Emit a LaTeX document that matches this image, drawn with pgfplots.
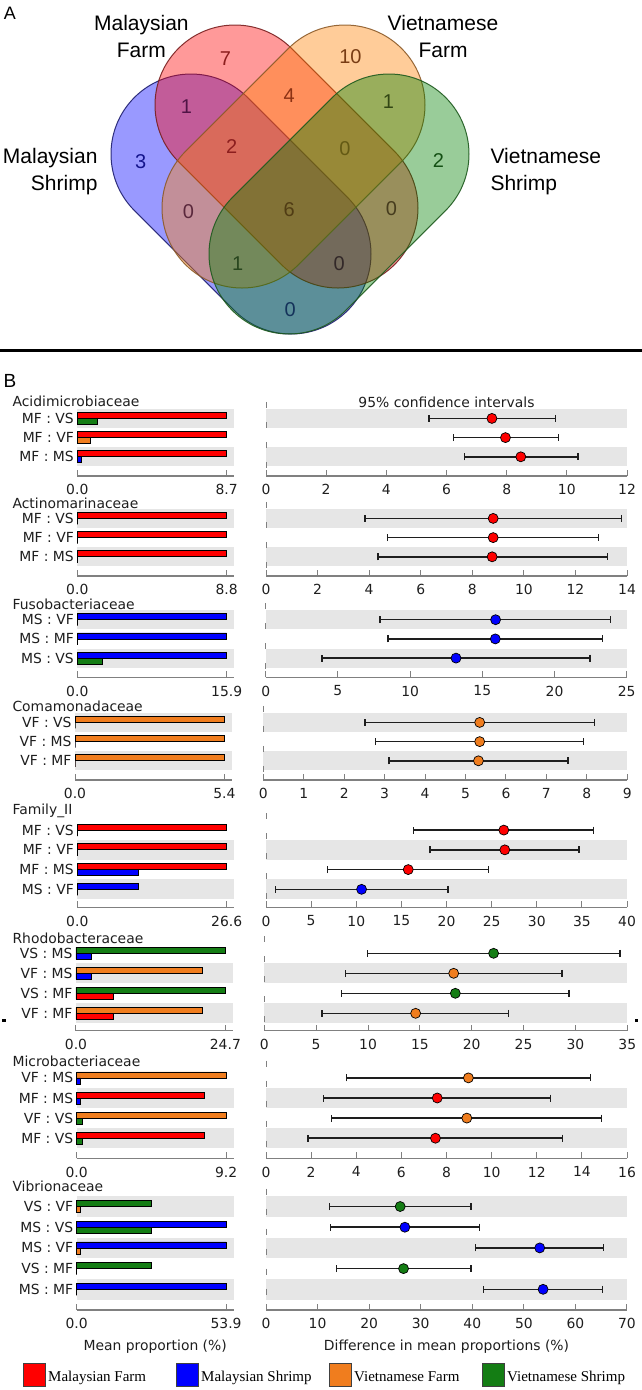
\documentclass[border=0pt]{standalone}
\usepackage{pgfplots}
\pgfplotsset{compat=1.18}
\usepackage{fontspec}
\setmainfont{DejaVu Sans}
\newfontfamily\vennfont{Liberation Sans}
\newfontfamily\legfont{Liberation Serif}
\usetikzlibrary{calc}

\definecolor{cMF}{RGB}{255,0,0}
\definecolor{cMS}{RGB}{0,0,255}
\definecolor{cVF}{RGB}{240,125,30}
\definecolor{cVS}{RGB}{20,125,20}
\definecolor{bandgray}{RGB}{230,230,230}
\definecolor{axgray}{RGB}{128,128,128}
\definecolor{txt}{RGB}{30,30,30}

\newcommand{\fs}{\fontsize{13.9}{16}\selectfont}

% stadium shape of the Venn diagram: style, centre 1, centre 2, side angle
\newcommand{\capsule}[6]{%
  \path[#1] ($(axis cs:#2,#3)+(#6:80pt)$) -- ($(axis cs:#4,#5)+(#6:80pt)$)
    arc[start angle=#6, delta angle=-180, radius=80pt]
    -- ($(axis cs:#2,#3)+(#6+180:80pt)$)
    arc[start angle=#6+180, delta angle=-180, radius=80pt] -- cycle;}

\tikzset{zl/.style={axgray, line width=1pt, dash pattern=on 6pt off 14pt}}

\pgfplotsset{
  base/.style={scale only axis, anchor=south west, clip=false,
    axis x line*=bottom, axis y line*=left,
    x axis line style={-, draw=axgray, line width=1.2pt},
    y axis line style={draw=none},
    xtick align=inside, major tick length=6pt,
    xtick style={draw=axgray, line width=1pt},
    ytick style={draw=none},
    font=\fs,
    tick label style={text=txt, font=\fs},
    xticklabel style={yshift=-5pt},
    /pgf/number format/assume math mode=true},
  barax/.style={base, width=157pt, xmin=0},
  ciax/.style={base, width=361pt, xmin=0, ytick=\empty},
  bt/.style={xbar, bar width=6pt, bar shift=3pt, draw=black, line width=0.7pt},
  bb/.style={xbar, bar width=6pt, bar shift=-3pt, draw=black, line width=0.7pt},
  ci/.style={only marks, mark=*, mark size=5pt, draw=black, line width=0.7pt,
    error bars/x dir=both, error bars/x explicit,
    error bars/error bar style={line width=1.5pt, txt},
    error bars/error mark options={rotate=90, mark size=3.5pt, line width=1.5pt, txt}},
}

\begin{document}
\begin{tikzpicture}
\useasboundingbox (0,0) rectangle (642pt,-1390pt);

% ---------------- A: Venn diagram ----------------
\begin{axis}[at={(0pt,0pt)}, anchor=north west, scale only axis,
  width=642pt, height=345pt, xmin=0, xmax=642, ymin=0, ymax=345,
  y dir=reverse, hide axis, clip=false]
  \capsule{fill=blue, fill opacity=0.4, draw={rgb,255:red,30;green,30;blue,110}, draw opacity=0.9, line width=1pt}{191}{154}{291}{254}{45}
  \capsule{fill=red, fill opacity=0.4, draw={rgb,255:red,120;green,30;blue,30}, draw opacity=0.9, line width=1pt}{235}{105}{338}{208}{45}
  \capsule{fill={rgb,255:red,255;green,128;blue,0}, fill opacity=0.4, draw={rgb,255:red,140;green,90;blue,40}, draw opacity=0.9, line width=1pt}{345}{105}{242}{208}{-45}
  \capsule{fill={rgb,255:red,0;green,128;blue,0}, fill opacity=0.4, draw={rgb,255:red,30;green,90;blue,30}, draw opacity=0.9, line width=1pt}{389}{154}{289}{254}{-45}
  \begin{scope}[font=\vennfont\fontsize{20}{21}\selectfont]
  \node[text={rgb,255:red,140;green,30;blue,30}] at (axis cs:225.4,58.3) {7};
  \node[text={rgb,255:red,120;green,60;blue,20}] at (axis cs:350.4,56.7) {10};
  \node[text={rgb,255:red,80;green,20;blue,70}] at (axis cs:186.5,106.7) {1};
  \node[text={rgb,255:red,140;green,50;blue,20}] at (axis cs:289.3,96) {4};
  \node[text={rgb,255:red,50;green,70;blue,20}] at (axis cs:388.5,101.7) {1};
  \node[text={rgb,255:red,20;green,20;blue,140}] at (axis cs:140.6,161.7) {3};
  \node[text={rgb,255:red,140;green,30;blue,30}] at (axis cs:231.6,146.7) {2};
  \node[text={rgb,255:red,100;green,90;blue,20}] at (axis cs:345,149) {0};
  \node[text={rgb,255:red,20;green,80;blue,20}] at (axis cs:438.5,160.7) {2};
  \node[text={rgb,255:red,90;green,40;blue,60}] at (axis cs:188.5,211.7) {0};
  \node[text={rgb,255:red,80;green,60;blue,20}] at (axis cs:289.3,209.3) {6};
  \node[text={rgb,255:red,70;green,60;blue,30}] at (axis cs:391.4,208.3) {0};
  \node[text={rgb,255:red,40;green,70;blue,30}] at (axis cs:237.7,263.3) {1};
  \node[text={rgb,255:red,50;green,40;blue,40}] at (axis cs:339.3,263.3) {0};
  \node[text={rgb,255:red,20;green,50;blue,90}] at (axis cs:290.2,310) {0};
  \end{scope}
  \begin{scope}[font=\vennfont\fontsize{21}{27}\selectfont, text=black]
  \node[align=center] at (axis cs:141.4,36.7) {Malaysian\\Farm};
  \node[align=center] at (axis cs:443,36.7) {Vietnamese\\Farm};
  \node[align=right, anchor=east] at (axis cs:101,172) {Malaysian\\Shrimp};
  \node[align=left, anchor=west] at (axis cs:487,172) {Vietnamese\\Shrimp};
  \node at (axis cs:10,13) {\fontsize{18}{20}\selectfont A};
  \end{scope}
\end{axis}
\draw[line width=2.5pt] (0,-350.5pt) -- (642pt,-350.5pt);
\node[font=\vennfont\fontsize{19}{20}\selectfont] at (10pt,-381pt) {B};

% ---------------- B: panels ----------------
\begin{scope}[font=\fs, text=txt]
\node[anchor=west] at (9pt,-401.7pt) {Acidimicrobiaceae};
\node[anchor=west] at (9pt,-503.3pt) {Actinomarinaceae};
\node[anchor=west] at (9pt,-604.3pt) {Fusobacteriaceae};
\node[anchor=west] at (9pt,-706.7pt) {Comamonadaceae};
\node[anchor=west] at (9pt,-810.7pt) {Family\_II};
\node[anchor=west] at (9pt,-938.3pt) {Rhodobacteraceae};
\node[anchor=west] at (9pt,-1061.7pt) {Microbacteriaceae};
\node[anchor=west] at (9pt,-1186.7pt) {Vibrionaceae};
\end{scope}

% Acidimicrobiaceae
\begin{axis}[barax, at={(77.3pt,-476pt)}, height=74.1pt, xmax=9.144, ymin=0, ymax=3.86,
  xtick={0,8.7}, xticklabels={0.0,8.7}, ytick={1,2,3}, yticklabels={MF : MS,MF : VF,MF : VS}]
  \fill[bandgray] (axis cs:0,0.5) rectangle (axis cs:9.144,1.5);
  \fill[bandgray] (axis cs:0,2.5) rectangle (axis cs:9.144,3.5);
  \addplot[bt, fill=cMF] coordinates {(8.7,3) (8.7,2) (8.7,1)};
  \addplot[bb, fill=cVS] coordinates {(1.18,3)};
  \addplot[bb, fill=cVF] coordinates {(0.74,2)};
  \addplot[bb, fill=cMS] coordinates {(0.21,1)};
\end{axis}
\begin{axis}[ciax, at={(266pt,-476pt)}, height=74.1pt, xmax=12, ymin=0, ymax=3.86, xtick distance=2]
  \fill[bandgray] (axis cs:0,0.5) rectangle (axis cs:12,1.5);
  \fill[bandgray] (axis cs:0,2.5) rectangle (axis cs:12,3.5);
  \draw[zl] (axis cs:0,3.86) -- (axis cs:0,0);
  \addplot[ci, fill=cMF] table[row sep=\\, x=m, y=r, x error plus expr=\thisrow{h}-\thisrow{m}, x error minus expr=\thisrow{m}-\thisrow{l}]
    {r m l h\\ 3 7.51 5.41 9.63\\ 2 7.96 6.23 9.72\\ 1 8.47 6.59 10.37\\};
  \node[text=txt, font=\fs] at (rel axis cs:0.5,1) {95\% confidence intervals};
\end{axis}

% Actinomarinaceae
\begin{axis}[barax, at={(77.3pt,-576pt)}, height=74.1pt, xmax=9.249, ymin=0, ymax=3.86,
  xtick={0,8.8}, xticklabels={0.0,8.8}, ytick={1,2,3}, yticklabels={MF : MS,MF : VF,MF : VS}]
  \fill[bandgray] (axis cs:0,0.5) rectangle (axis cs:9.249,1.5);
  \fill[bandgray] (axis cs:0,2.5) rectangle (axis cs:9.249,3.5);
  \addplot[bt, fill=cMF] coordinates {(8.8,3) (8.8,2) (8.8,1)};
  \addplot[bb, fill=cVS] coordinates {(0,3)};
  \addplot[bb, fill=cVF] coordinates {(0,2)};
  \addplot[bb, fill=cMS] coordinates {(0,1)};
\end{axis}
\begin{axis}[ciax, at={(266pt,-576pt)}, height=74.1pt, xmax=14, ymin=0, ymax=3.86, xtick distance=2]
  \fill[bandgray] (axis cs:0,0.5) rectangle (axis cs:14,1.5);
  \fill[bandgray] (axis cs:0,2.5) rectangle (axis cs:14,3.5);
  \draw[zl] (axis cs:0,3.86) -- (axis cs:0,0);
  \addplot[ci, fill=cMF] table[row sep=\\, x=m, y=r, x error plus expr=\thisrow{h}-\thisrow{m}, x error minus expr=\thisrow{m}-\thisrow{l}]
    {r m l h\\ 3 8.81 3.83 13.79\\ 2 8.81 4.71 12.90\\ 1 8.77 4.35 13.24\\};
\end{axis}

% Fusobacteriaceae
\begin{axis}[barax, at={(77.3pt,-677.3pt)}, height=74.1pt, xmax=16.711, ymin=0, ymax=3.86,
  xtick={0,15.9}, xticklabels={0.0,15.9}, ytick={1,2,3}, yticklabels={MS : VS,MS : MF,MS : VF}]
  \fill[bandgray] (axis cs:0,0.5) rectangle (axis cs:16.711,1.5);
  \fill[bandgray] (axis cs:0,2.5) rectangle (axis cs:16.711,3.5);
  \addplot[bt, fill=cMS] coordinates {(15.9,3) (15.9,2) (15.9,1)};
  \addplot[bb, fill=cVF] coordinates {(0,3)};
  \addplot[bb, fill=cMF] coordinates {(0,2)};
  \addplot[bb, fill=cVS] coordinates {(2.70,1)};
\end{axis}
\begin{axis}[ciax, at={(265.7pt,-677.3pt)}, height=74.1pt, xmax=25, ymin=0, ymax=3.86, xtick distance=5]
  \fill[bandgray] (axis cs:0,0.5) rectangle (axis cs:25,1.5);
  \fill[bandgray] (axis cs:0,2.5) rectangle (axis cs:25,3.5);
  \draw[zl] (axis cs:0,3.86) -- (axis cs:0,0);
  \addplot[ci, fill=cMS] table[row sep=\\, x=m, y=r, x error plus expr=\thisrow{h}-\thisrow{m}, x error minus expr=\thisrow{m}-\thisrow{l}]
    {r m l h\\ 3 15.92 7.90 23.89\\ 2 15.90 8.46 23.34\\ 1 13.18 3.89 22.47\\};
\end{axis}

% Comamonadaceae
\begin{axis}[barax, at={(75pt,-780pt)}, height=74.1pt, xmax=5.675, ymin=0, ymax=3.86,
  xtick={0,5.4}, xticklabels={0.0,5.4}, ytick={1,2,3}, yticklabels={VF : MF,VF : MS,VF : VS}]
  \fill[bandgray] (axis cs:0,0.5) rectangle (axis cs:5.675,1.5);
  \fill[bandgray] (axis cs:0,2.5) rectangle (axis cs:5.675,3.5);
  \addplot[bt, fill=cVF] coordinates {(5.4,3) (5.4,2) (5.4,1)};
  \addplot[bb, fill=cVS] coordinates {(0,3)};
  \addplot[bb, fill=cMS] coordinates {(0,2)};
  \addplot[bb, fill=cMF] coordinates {(0,1)};
\end{axis}
\begin{axis}[ciax, at={(263.3pt,-780pt)}, width=364pt, height=74.1pt, xmax=9, ymin=0, ymax=3.86, xtick distance=1]
  \fill[bandgray] (axis cs:0,0.5) rectangle (axis cs:9,1.5);
  \fill[bandgray] (axis cs:0,2.5) rectangle (axis cs:9,3.5);
  \draw[zl] (axis cs:0,3.86) -- (axis cs:0,0);
  \addplot[ci, fill=cVF] table[row sep=\\, x=m, y=r, x error plus expr=\thisrow{h}-\thisrow{m}, x error minus expr=\thisrow{m}-\thisrow{l}]
    {r m l h\\ 3 5.35 2.51 8.19\\ 2 5.35 2.78 7.92\\ 1 5.32 3.11 7.54\\};
\end{axis}

% Family_II
\begin{axis}[barax, at={(77.3pt,-907.3pt)}, height=94.2pt, xmax=27.957, ymin=0.09, ymax=4.86,
  xtick={0,26.6}, xticklabels={0.0,26.6}, ytick={1,2,3,4}, yticklabels={MS : VF,MF : MS,MF : VF,MF : VS}]
  \fill[bandgray] (axis cs:0,0.5) rectangle (axis cs:27.957,1.5);
  \fill[bandgray] (axis cs:0,2.5) rectangle (axis cs:27.957,3.5);
  \addplot[bt, fill=cMF] coordinates {(26.6,4) (26.6,3) (26.6,2)};
  \addplot[bt, fill=cMS] coordinates {(10.81,1)};
  \addplot[bb, fill=cVS] coordinates {(0,4)};
  \addplot[bb, fill=cVF] coordinates {(0,3) (0,1)};
  \addplot[bb, fill=cMS] coordinates {(10.81,2)};
\end{axis}
\begin{axis}[ciax, at={(266pt,-907.3pt)}, height=94.2pt, xmax=40, ymin=0.09, ymax=4.86, xtick distance=5]
  \fill[bandgray] (axis cs:0,0.5) rectangle (axis cs:40,1.5);
  \fill[bandgray] (axis cs:0,2.5) rectangle (axis cs:40,3.5);
  \draw[zl] (axis cs:0,4.86) -- (axis cs:0,0.09);
  \addplot[ci, fill=cMF] table[row sep=\\, x=m, y=r, x error plus expr=\thisrow{h}-\thisrow{m}, x error minus expr=\thisrow{m}-\thisrow{l}]
    {r m l h\\ 4 26.35 16.35 36.31\\ 3 26.46 18.19 34.69\\ 2 15.76 6.79 24.65\\};
  \addplot[ci, fill=cMS] table[row sep=\\, x=m, y=r, x error plus expr=\thisrow{h}-\thisrow{m}, x error minus expr=\thisrow{m}-\thisrow{l}]
    {r m l h\\ 1 10.59 1.03 20.15\\};
\end{axis}

% Rhodobacteraceae
\begin{axis}[barax, at={(76pt,-1030.7pt)}, height=94.6pt, xmax=25.96, ymin=0.13, ymax=4.86,
  xtick={0,24.7}, xticklabels={0.0,24.7}, ytick={1,2,3,4}, yticklabels={VF : MF,VS : MF,VF : MS,VS : MS}]
  \fill[bandgray] (axis cs:0,0.5) rectangle (axis cs:25.96,1.5);
  \fill[bandgray] (axis cs:0,2.5) rectangle (axis cs:25.96,3.5);
  \addplot[bt, fill=cVS] coordinates {(24.7,4) (24.7,2)};
  \addplot[bt, fill=cVF] coordinates {(20.84,3) (20.84,1)};
  \addplot[bb, fill=cMS] coordinates {(2.54,4) (2.54,3)};
  \addplot[bb, fill=cMF] coordinates {(6.23,2) (6.23,1)};
\end{axis}
\begin{axis}[ciax, at={(264.3pt,-1030.7pt)}, width=363pt, height=94.6pt, xmax=35, ymin=0.13, ymax=4.86, xtick distance=5]
  \fill[bandgray] (axis cs:0,0.5) rectangle (axis cs:35,1.5);
  \fill[bandgray] (axis cs:0,2.5) rectangle (axis cs:35,3.5);
  \draw[zl] (axis cs:0,4.86) -- (axis cs:0,0.13);
  \addplot[ci, fill=cVS] table[row sep=\\, x=m, y=r, x error plus expr=\thisrow{h}-\thisrow{m}, x error minus expr=\thisrow{m}-\thisrow{l}]
    {r m l h\\ 4 22.11 9.96 34.29\\ 2 18.42 7.46 29.38\\};
  \addplot[ci, fill=cVF] table[row sep=\\, x=m, y=r, x error plus expr=\thisrow{h}-\thisrow{m}, x error minus expr=\thisrow{m}-\thisrow{l}]
    {r m l h\\ 3 18.26 7.81 28.70\\ 1 14.59 5.56 23.56\\};
\end{axis}
\fill[black] (2pt,-1019pt) rectangle (6pt,-1022pt);
\fill[black] (635pt,-1019pt) rectangle (638pt,-1022pt);

% Microbacteriaceae
\begin{axis}[barax, at={(76.7pt,-1158.3pt)}, height=97.7pt, xmax=9.669, ymin=0, ymax=4.86,
  xtick={0,9.2}, xticklabels={0.0,9.2}, ytick={1,2,3,4}, yticklabels={MF : VS,VF : VS,MF : MS,VF : MS}]
  \fill[bandgray] (axis cs:0,0.5) rectangle (axis cs:9.669,1.5);
  \fill[bandgray] (axis cs:0,2.5) rectangle (axis cs:9.669,3.5);
  \addplot[bt, fill=cVF] coordinates {(9.2,4) (9.2,2)};
  \addplot[bt, fill=cMF] coordinates {(7.85,3) (7.85,1)};
  \addplot[bb, fill=cMS] coordinates {(0.25,4) (0.25,3)};
  \addplot[bb, fill=cVS] coordinates {(0.33,2) (0.33,1)};
\end{axis}
\begin{axis}[ciax, at={(266pt,-1158.3pt)}, height=97.7pt, xmax=16, ymin=0, ymax=4.86, xtick distance=2]
  \fill[bandgray] (axis cs:0,0.5) rectangle (axis cs:16,1.5);
  \fill[bandgray] (axis cs:0,2.5) rectangle (axis cs:16,3.5);
  \draw[zl] (axis cs:0,4.86) -- (axis cs:0,0);
  \addplot[ci, fill=cVF] table[row sep=\\, x=m, y=r, x error plus expr=\thisrow{h}-\thisrow{m}, x error minus expr=\thisrow{m}-\thisrow{l}]
    {r m l h\\ 4 8.97 3.57 14.38\\ 2 8.90 2.91 14.88\\};
  \addplot[ci, fill=cMF] table[row sep=\\, x=m, y=r, x error plus expr=\thisrow{h}-\thisrow{m}, x error minus expr=\thisrow{m}-\thisrow{l}]
    {r m l h\\ 3 7.59 2.54 12.61\\ 1 7.51 1.86 13.14\\};
\end{axis}

% Vibrionaceae
\begin{axis}[barax, at={(76.7pt,-1310pt)}, height=121.3pt, xmax=56.649, ymin=0, ymax=5.86,
  xtick={0,53.9}, xticklabels={0.0,53.9}, ytick={1,2,3,4,5}, yticklabels={MS : MF,VS : MF,MS : VF,MS : VS,VS : VF},
  xlabel={Mean proportion (\%)}, xlabel style={at={(rel axis cs:0.5,0)}, anchor=center, yshift=-36.7pt, text=txt}]
  \fill[bandgray] (axis cs:0,0.5) rectangle (axis cs:56.649,1.5);
  \fill[bandgray] (axis cs:0,2.5) rectangle (axis cs:56.649,3.5);
  \fill[bandgray] (axis cs:0,4.5) rectangle (axis cs:56.649,5.5);
  \addplot[bt, fill=cVS] coordinates {(27.07,5) (27.07,2)};
  \addplot[bt, fill=cMS] coordinates {(53.9,4) (53.9,3) (53.9,1)};
  \addplot[bb, fill=cVF] coordinates {(1.2,5) (1.2,3)};
  \addplot[bb, fill=cVS] coordinates {(27.07,4)};
  \addplot[bb, fill=cMF] coordinates {(0,2) (0,1)};
\end{axis}
\begin{axis}[ciax, at={(266pt,-1310pt)}, height=121.3pt, xmax=70, ymin=0, ymax=5.86, xtick distance=10,
  xlabel={Difference in mean proportions (\%)}, xlabel style={at={(rel axis cs:0.5,0)}, anchor=center, yshift=-36.7pt, text=txt}]
  \fill[bandgray] (axis cs:0,0.5) rectangle (axis cs:70,1.5);
  \fill[bandgray] (axis cs:0,2.5) rectangle (axis cs:70,3.5);
  \fill[bandgray] (axis cs:0,4.5) rectangle (axis cs:70,5.5);
  \draw[zl] (axis cs:0,5.86) -- (axis cs:0,0);
  \addplot[ci, fill=cVS] table[row sep=\\, x=m, y=r, x error plus expr=\thisrow{h}-\thisrow{m}, x error minus expr=\thisrow{m}-\thisrow{l}]
    {r m l h\\ 5 26.02 12.27 39.78\\ 2 26.67 13.69 39.71\\};
  \addplot[ci, fill=cMS] table[row sep=\\, x=m, y=r, x error plus expr=\thisrow{h}-\thisrow{m}, x error minus expr=\thisrow{m}-\thisrow{l}]
    {r m l h\\ 4 26.93 12.46 41.39\\ 3 53.08 40.62 65.48\\ 1 53.73 42.17 65.29\\};
\end{axis}

% legend
\begin{scope}[font=\legfont\fontsize{15}{17}\selectfont]
\foreach \x/\c/\t in {23/cMF/Malaysian Farm, 176/cMS/Malaysian Shrimp, 329/cVF/Vietnamese Farm, 482/cVS/Vietnamese Shrimp}{
  \filldraw[fill=\c, draw=black!75, line width=0.8pt] (\x pt,-1363.5pt) rectangle ++(22pt,-23pt);
  \node[anchor=base west, inner sep=0pt, text=black] at ($(\x pt,-1381pt)+(25pt,0)$) {\t};
}
\end{scope}
\end{tikzpicture}
\end{document}
